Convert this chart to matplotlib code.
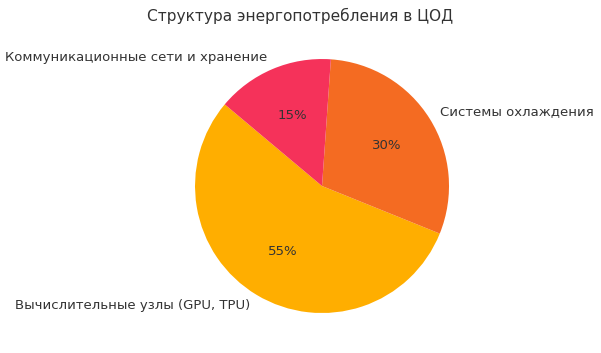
import matplotlib
matplotlib.use("Agg")
import matplotlib.pyplot as plt

# data
labels = ["Вычислительные узлы (GPU, TPU)", "Системы охлаждения",
          "Коммуникационные сети и хранение"]
shares = [55, 30, 15]
colors = ["#FFAE00", "#F46B22", "#F5325A"]

fig = plt.figure(figsize=(6.01, 3.53), dpi=100)
ax = fig.add_axes([0.3245, 0.1133, 0.4226, 0.7195])

wedges, texts, autotexts = ax.pie(
    shares, labels=labels, colors=colors, startangle=140,
    autopct="%1.0f%%", pctdistance=0.6, labeldistance=1.1,
    textprops={"fontsize": 9.5, "color": "#333333"})
ax.set_xlim(-1, 1)
ax.set_ylim(-1, 1)
ax.set_aspect("equal")

fig.text(0.5, 0.955, "Структура энергопотребления в ЦОД", ha="center",
         va="center", fontsize=11.1, color="#333333")

fig.savefig("out.png", dpi=100)
